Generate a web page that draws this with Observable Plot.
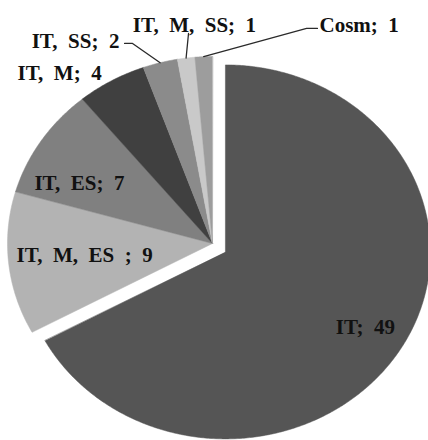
<!DOCTYPE html>
<html>
<head>
<meta charset="utf-8">
<script src="https://cdn.jsdelivr.net/npm/d3@7"></script>
<script src="https://cdn.jsdelivr.net/npm/@observablehq/plot@0.6"></script>
<style>
  html, body { margin: 0; padding: 0; background: #ffffff; }
  #chart { width: 428px; height: 440px; overflow: hidden; }
</style>
</head>
<body>
<div id="chart"></div>
<script>
// ---- data ----
const names  = ["IT", "IT, M, ES ", "IT, ES", "IT, M", "IT, SS", "IT, M, SS", "Cosm"];
const values = [49, 9, 7, 4, 2, 1, 1];
const colors = ["#555555", "#b3b3b3", "#808080", "#404040", "#8b8b8b", "#c9c9c9", "#9d9d9d"];

// ---- layout (data units of the pie, radius = 1) ----
const explodeX = [0.063, 0, 0, 0, 0, 0, 0];
const explodeY = [-0.045, 0, 0, 0, 0, 0, 0];
const labelX = [0.746, -0.624, -0.649, -0.746, -0.454, -0.088, 0.522];
const labelY = [-0.449, -0.064, 0.321, 0.909, 1.080, 1.166, 1.166];
const labelAnchor = ["middle", "middle", "middle", "middle", "end", "middle", "start"];
const leaderPts = [null, null, null, null,
  [[-0.390, 1.070], [-0.429, 1.070]],
  [[-0.117, 1.123]],
  [[0.459, 1.150], [0.512, 1.150]]];

const arcs = d3.pie().sort(null).value(d => d)(values);

// slice polygons
const slicePts = [];
arcs.forEach((a, i) => {
  const cx = explodeX[i], cy = explodeY[i];
  slicePts.push({name: names[i], x: cx, y: cy});
  const steps = Math.max(2, Math.ceil((a.endAngle - a.startAngle) / (Math.PI / 360)));
  for (let k = 0; k <= steps; k++) {
    const t = a.startAngle + (a.endAngle - a.startAngle) * k / steps;
    slicePts.push({name: names[i], x: cx + Math.sin(t), y: cy + Math.cos(t)});
  }
});

// leader lines
const leaders = [];
arcs.forEach((a, i) => {
  if (!leaderPts[i]) return;
  const m = (a.startAngle + a.endAngle) / 2;
  leaders.push({name: names[i], x: explodeX[i] + Math.sin(m), y: explodeY[i] + Math.cos(m)});
  leaderPts[i].forEach(([x, y]) => leaders.push({name: names[i], x, y}));
});

// labels
const labels = names.map((n, i) => ({
  text: (n + "; " + values[i]).replace(/ /g, "\u2002"),
  x: labelX[i], y: labelY[i], anchor: labelAnchor[i]
}));

const W = 428, H = 440;
const sx = 205, sy = 187, ox = 212, oy = 243;

const plot = Plot.plot({
  width: W, height: H,
  margin: 0,
  x: {domain: [-ox / sx, (W - ox) / sx], axis: null},
  y: {domain: [(oy - H) / sy, oy / sy], axis: null},
  color: {domain: names, range: colors},
  style: {background: "#ffffff"},
  marks: [
    Plot.line(slicePts, {x: "x", y: "y", z: "name", fill: "name", stroke: "name", strokeWidth: 0.5, curve: "linear-closed"}),
    Plot.line(leaders, {x: "x", y: "y", z: "name", stroke: "#2a2a2a", strokeWidth: 1.3}),
    ...["start", "middle", "end"].map(anc =>
      Plot.text(labels.filter(d => d.anchor === anc), {
        x: "x", y: "y", text: "text", textAnchor: anc,
        fontFamily: "Liberation Serif", fontWeight: "bold", fontSize: 21, fill: "#111111"
      }))
  ]
});
document.getElementById("chart").appendChild(plot);
</script>
</body>
</html>
